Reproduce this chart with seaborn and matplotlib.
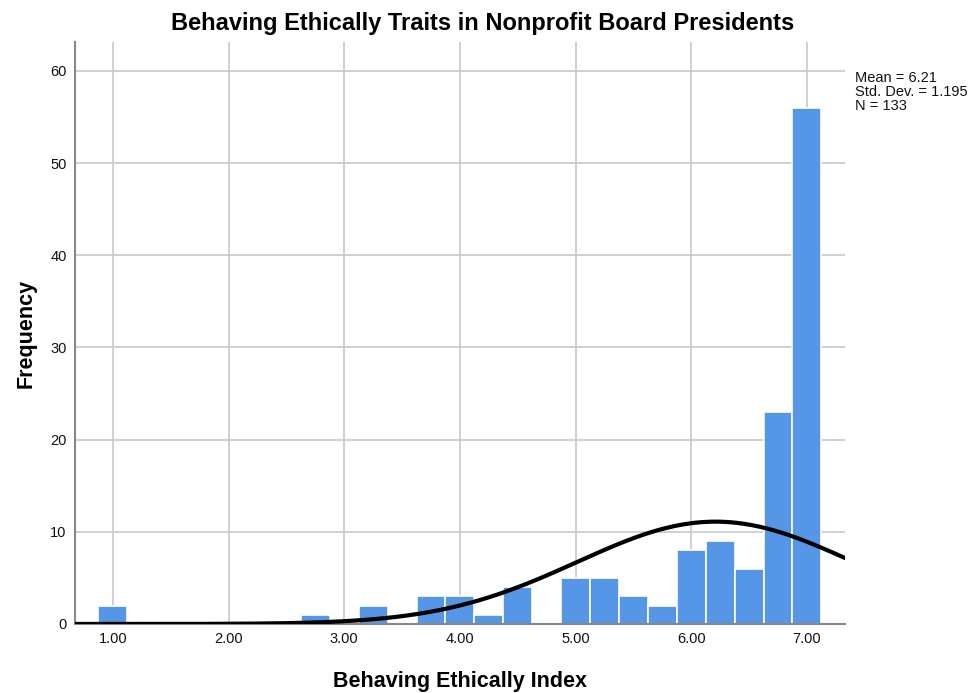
import numpy as np
import pandas as pd
import matplotlib
matplotlib.use("Agg")
import matplotlib.pyplot as plt
import seaborn as sns

# values of the index (bin centres) and their counts
index_values = [1.00, 2.75, 3.25, 3.75, 4.00, 4.25, 4.50, 5.00, 5.25, 5.50,
                5.75, 6.00, 6.25, 6.50, 6.75, 7.00]
counts = [2, 1, 2, 3, 3, 1, 4, 5, 5, 3, 2, 8, 9, 6, 23, 56]

MEAN = 6.21
STD = 1.195
N = 133
BIN_W = 0.25

x_ticks = [1, 2, 3, 4, 5, 6, 7]
x_tick_labels = ['1.00', '2.00', '3.00', '4.00', '5.00', '6.00', '7.00']
y_ticks = [0, 10, 20, 30, 40, 50, 60]

sns.set_theme(style="white")
plt.rcParams['font.family'] = ['Liberation Sans', 'DejaVu Sans']

df = pd.DataFrame({'value': index_values, 'count': counts})

fig = plt.figure(figsize=(9.74, 6.93), dpi=100)
ax = fig.add_axes([0.077, 0.0996, 0.7906, 0.8394])

for t in x_ticks:
    ax.axvline(t, color='#c8c8c8', linewidth=1.2, zorder=0)
for t in y_ticks[1:]:
    ax.axhline(t, color='#c8c8c8', linewidth=1.2, zorder=0)

sns.histplot(data=df, x='value', weights='count', binwidth=BIN_W,
             binrange=(1.0 - BIN_W / 2, 7.0 + BIN_W / 2), ax=ax,
             color='#5596E6', alpha=1.0, edgecolor='white', linewidth=1.2,
             zorder=2)

# fitted normal curve
xs = np.linspace(0.672, 7.33, 400)
ys = N * BIN_W * np.exp(-0.5 * ((xs - MEAN) / STD) ** 2) / (STD * np.sqrt(2 * np.pi))
sns.lineplot(x=xs, y=ys, ax=ax, color='black', linewidth=3, zorder=3)

ax.set_xlim(0.672, 7.33)
ax.set_ylim(0, 63.1)
ax.set_xticks(x_ticks)
ax.set_xticklabels(x_tick_labels)
ax.set_yticks(y_ticks)
ax.tick_params(axis='both', labelsize=10.5, colors='#111111', length=0, pad=6)

for side in ['top', 'right']:
    ax.spines[side].set_visible(False)
ax.spines['left'].set_color('#888888')
ax.spines['bottom'].set_color('#888888')
ax.spines['left'].set_linewidth(1.5)
ax.spines['bottom'].set_linewidth(1.5)

ax.set_xlabel('Behaving Ethically Index', fontsize=15.5, fontweight='bold',
              labelpad=18, color='black')
ax.set_ylabel('Frequency', fontsize=15.5, fontweight='bold', labelpad=10,
              color='black')
fig.suptitle('Behaving Ethically Traits in Nonprofit Board Presidents',
             fontsize=17, fontweight='bold', x=0.495, y=0.982, color='black')

fig.text(0.878, 0.897, f'Mean = {MEAN:.2f}\nStd. Dev. = {STD}\nN = {N}',
         fontsize=10.5, va='top', ha='left', linespacing=1.0, color='#111111')

fig.savefig('out.png', dpi=100)
